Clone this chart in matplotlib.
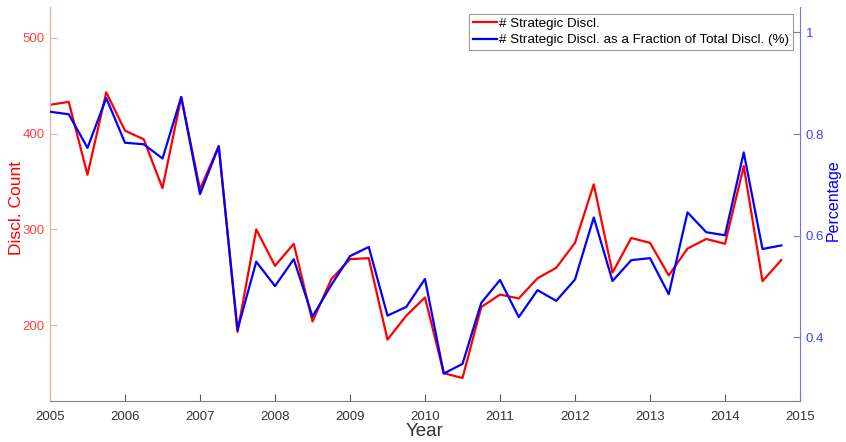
import matplotlib
matplotlib.use("Agg")
import matplotlib.pyplot as plt
import numpy as np
from matplotlib.ticker import FuncFormatter

plt.rcParams['font.family'] = ['Liberation Sans', 'DejaVu Sans']

# quarterly observations, 2005 Q1 .. 2014 Q4
years = np.arange(2005, 2015, 0.25)

strategic_count = [430, 433, 357, 443, 403, 394, 343, 438,
                   342, 387, 193, 300, 262, 285, 204, 248,
                   269, 270, 185, 210, 229, 150, 145, 219,
                   232, 228, 249, 260, 286, 347, 255, 291,
                   286, 252, 280, 290, 285, 366, 246, 268]

strategic_frac = [0.844, 0.839, 0.773, 0.871, 0.783, 0.780, 0.752, 0.873,
                  0.682, 0.776, 0.415, 0.549, 0.501, 0.554, 0.441, 0.503,
                  0.560, 0.578, 0.443, 0.460, 0.515, 0.329, 0.348, 0.468,
                  0.513, 0.440, 0.493, 0.472, 0.514, 0.636, 0.511, 0.552,
                  0.556, 0.485, 0.646, 0.607, 0.601, 0.764, 0.574, 0.581]

year_ticks = list(range(2005, 2016))
count_ticks = [200, 300, 400, 500]
frac_ticks = [0.4, 0.6, 0.8, 1.0]

red = '#ff0000'
blue = '#0000ff'
red_axis = '#ff4040'
blue_axis = '#4040ff'

fig = plt.figure(figsize=(8.46, 4.42), dpi=100)
ax = fig.add_axes([50/846, 41/442, 750/846, 394/442])
ax2 = ax.twinx()

l1, = ax.plot(years, strategic_count, color=red, lw=1.6)
l2, = ax2.plot(years, strategic_frac, color=blue, lw=1.6)

ax.set_xlim(2005, 2015)
ax.set_ylim(121, 532)
ax2.set_ylim(0.275, 1.05)

ax.set_xticks(year_ticks)
ax.set_yticks(count_ticks)
ax2.set_yticks(frac_ticks)
ax2.yaxis.set_major_formatter(FuncFormatter(lambda v, p: f'{v:g}'))

for a in (ax, ax2):
    a.spines['top'].set_visible(False)
    a.tick_params(direction='in', length=5, width=0.8, labelsize=9.5)

ax.spines['left'].set_color('#f5a3a3')
ax.spines['bottom'].set_color('#808080')
ax.spines['right'].set_visible(False)
ax2.spines['left'].set_visible(False)
ax2.spines['bottom'].set_visible(False)
ax2.spines['right'].set_color('#7070ff')

ax.tick_params(axis='x', colors='#555555', labelcolor='#333333', pad=7)
ax.tick_params(axis='y', colors='#f5a3a3', labelcolor=red_axis, pad=4)
ax2.tick_params(axis='y', colors='#7070ff', labelcolor=blue_axis, pad=4)

ax.set_xlabel('Year', fontsize=13.5, color='#333333')
ax.set_ylabel('Discl. Count', fontsize=12.5, color=red)
ax2.set_ylabel('Percentage', fontsize=11.5, color=blue)
ax.xaxis.set_label_coords(0.5, -0.056)
ax.yaxis.set_label_coords(-0.035, 0.49)
ax2.yaxis.set_label_coords(1.035, 0.51)

leg = ax2.legend([l1, l2],
                 ['# Strategic Discl.',
                  '# Strategic Discl. as a Fraction of Total Discl. (%)'],
                 loc='upper right', bbox_to_anchor=(0.9905, 0.983),
                 fontsize=9.6, frameon=True, fancybox=False,
                 handlelength=1.75, handletextpad=0.15, borderpad=0.3,
                 labelspacing=0.3, borderaxespad=0)
leg.get_frame().set_edgecolor('#808080')
leg.get_frame().set_linewidth(0.8)

fig.savefig('out.png', dpi=100)
